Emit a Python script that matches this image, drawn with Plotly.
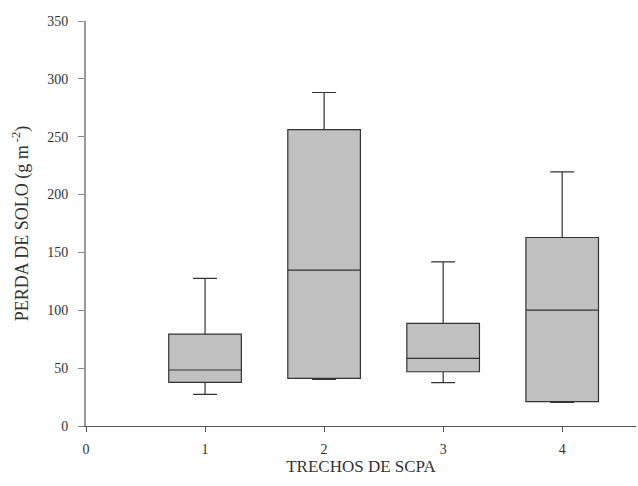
import plotly.graph_objects as go

trechos = [1, 2, 3, 4]
lower_whisker = [27.4, 40.3, 37.4, 20.4]
q1_vals = [37.7, 41.2, 46.9, 21.0]
median_vals = [48.4, 134.7, 58.5, 100.2]
q3_vals = [79.4, 256.2, 88.7, 162.9]
upper_whisker = [127.5, 288.2, 141.9, 219.6]
y_ticks = [0, 50, 100, 150, 200, 250, 300, 350]
x_ticks = [0, 1, 2, 3, 4]

fig = go.Figure()
fig.add_trace(go.Box(
    x=trechos,
    q1=q1_vals,
    median=median_vals,
    q3=q3_vals,
    lowerfence=lower_whisker,
    upperfence=upper_whisker,
    width=0.61,
    whiskerwidth=0.33,
    fillcolor="#c0c0c0",
    line=dict(color="#333333", width=1.2),
    boxpoints=False,
    showlegend=False,
    hoverinfo="skip",
))

font = "Liberation Serif, Times New Roman, serif"
fig.update_layout(
    width=638, height=486,
    margin=dict(l=86, r=2, t=21, b=60),
    paper_bgcolor="white", plot_bgcolor="white",
    font=dict(family=font, size=14, color="#333333"),
    xaxis=dict(
        range=[0, 4.62], tickmode="array", tickvals=x_ticks,
        ticks="outside", ticklen=5, tickcolor="#555555",
        showline=True, linecolor="#555555", linewidth=1.2,
        showgrid=False, zeroline=False,
        ticklabelstandoff=5,
        title=dict(text="TRECHOS DE SCPA", font=dict(size=17, family=font), standoff=4),
        tickfont=dict(size=14, family=font),
    ),
    yaxis=dict(
        range=[0, 350], tickmode="array", tickvals=y_ticks,
        ticks="outside", ticklen=6, tickcolor="#888888",
        showline=True, linecolor="#999999", linewidth=2,
        showgrid=False, zeroline=False,
        ticklabelstandoff=7,
        title=dict(text="PERDA DE SOLO (g m<sup> -2</sup>)", font=dict(size=18, family=font), standoff=14),
        tickfont=dict(size=14, family=font),
    ),
)

fig.write_html("out.html", config={"displayModeBar": False},
               post_script="document.body.style.margin='0';")
